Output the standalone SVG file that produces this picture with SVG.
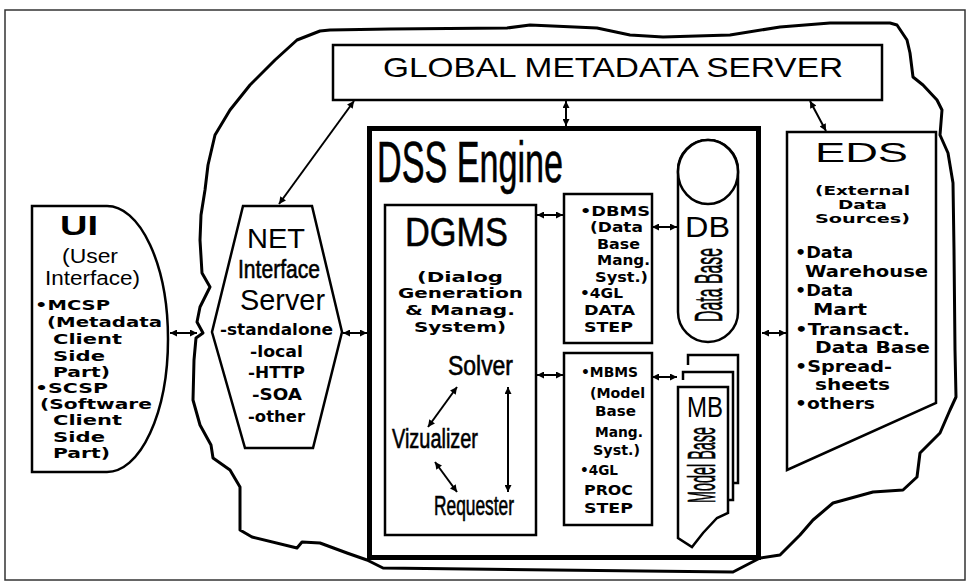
<svg xmlns="http://www.w3.org/2000/svg" width="968" height="583" viewBox="0 0 968 583">
<defs>
<marker id="ah" viewBox="0 0 10 10" refX="10" refY="5" markerWidth="8" markerHeight="7" markerUnits="userSpaceOnUse" orient="auto-start-reverse">
<path d="M0,0 L10,5 L0,10 z" fill="#000"/>
</marker>
<style>
.box{fill:#fff;stroke:#000;stroke-width:2.5;stroke-linejoin:miter}
.cloud{fill:none;stroke:#000;stroke-width:3;stroke-linejoin:round}
.con line{stroke:#000;stroke-width:2;marker-start:url(#ah);marker-end:url(#ah)}
text{fill:#000}
.reg{font-family:"Liberation Sans",Arial,sans-serif}
.cond{font-family:"Liberation Sans Narrow","Liberation Sans",Arial,sans-serif;stroke:#000;stroke-width:0.6}
.bw{font-family:"DejaVu Sans","Liberation Sans",Arial,sans-serif;font-weight:bold}
</style>
</defs>
<rect x="0" y="0" width="968" height="583" fill="#fff"/>
<rect x="5" y="10" width="960" height="570" fill="none" stroke="#333" stroke-width="1.5"/>

<path class="cloud" d="M390,29 L330,30 L320,31 L297,40 L275,60 L250,85 L230,110 L215,135 L208,165 L205,190 L201,215 L200,240 L202,273 L210,287 L200,307 L197,322 L203,333 L196,338 L194,360 L193,400 L200,425 L211,445 L213,458 L230,470 L240,487 L240,530 L252,537 L297,548 L302,542 L320,543 L347,553 L367,560 L383,568 L733,572 L760,558 L780,555 L800,535 L813,520 L833,503 L873,492 L903,490 L917,477 L920,453 L940,433 L950,410 L956,397 L955,350 L954,250 L953,183 L948,153 L940,135 L942,110 L937,100 L923,85 L913,77 L910,53 L907,40 L897,25 L890,23 L830,23 L780,27 L730,35 L663,37 L630,35 L597,28 L530,25 L507,28 Z"/>

<g id="gms">
<rect class="box" x="333" y="45" width="549" height="55"/>
<text class="reg" x="383" y="77" font-size="28" textLength="460" lengthAdjust="spacingAndGlyphs">GLOBAL METADATA SERVER</text>
</g>

<g id="ui">
<path class="box" d="M32,206 H107 A61,133 0 0 1 107,472 H32 Z"/>
<text class="reg" x="60" y="235" font-size="28" font-weight="bold" textLength="38" lengthAdjust="spacingAndGlyphs">UI</text>
<text class="reg" x="62" y="263" font-size="20" textLength="56" lengthAdjust="spacingAndGlyphs">(User</text>
<text class="reg" x="45" y="285" font-size="20" textLength="95" lengthAdjust="spacingAndGlyphs">Interface)</text>
<text class="bw" x="35" y="310" font-size="13.5" textLength="75" lengthAdjust="spacingAndGlyphs">•MCSP</text>
<text class="bw" x="47" y="327" font-size="13.5" textLength="115" lengthAdjust="spacingAndGlyphs">(Metadata</text>
<text class="bw" x="53" y="344" font-size="13.5" textLength="69" lengthAdjust="spacingAndGlyphs">Client</text>
<text class="bw" x="53" y="361" font-size="13.5" textLength="52" lengthAdjust="spacingAndGlyphs">Side</text>
<text class="bw" x="53" y="377" font-size="13.5" textLength="57" lengthAdjust="spacingAndGlyphs">Part)</text>
<text class="bw" x="35" y="393" font-size="13.5" textLength="73" lengthAdjust="spacingAndGlyphs">•SCSP</text>
<text class="bw" x="40" y="409" font-size="13.5" textLength="112" lengthAdjust="spacingAndGlyphs">(Software</text>
<text class="bw" x="53" y="425" font-size="13.5" textLength="69" lengthAdjust="spacingAndGlyphs">Client</text>
<text class="bw" x="53" y="442" font-size="13.5" textLength="52" lengthAdjust="spacingAndGlyphs">Side</text>
<text class="bw" x="53" y="458" font-size="13.5" textLength="57" lengthAdjust="spacingAndGlyphs">Part)</text>
</g>

<g id="net">
<polygon class="box" points="243,206 312,206 342,332 313,448 245,448 212,332"/>
<text class="reg" x="247" y="248" font-size="28" textLength="58" lengthAdjust="spacingAndGlyphs">NET</text>
<text class="cond" x="238" y="278" font-size="26" textLength="82" lengthAdjust="spacingAndGlyphs">Interface</text>
<text class="reg" x="240" y="310" font-size="29" textLength="85" lengthAdjust="spacingAndGlyphs">Server</text>
<text class="bw" x="220" y="335" font-size="15" textLength="113" lengthAdjust="spacingAndGlyphs">-standalone</text>
<text class="bw" x="250" y="357" font-size="15" textLength="53" lengthAdjust="spacingAndGlyphs">-local</text>
<text class="bw" x="248" y="378" font-size="15" textLength="57" lengthAdjust="spacingAndGlyphs">-HTTP</text>
<text class="bw" x="252" y="400" font-size="15" textLength="50" lengthAdjust="spacingAndGlyphs">-SOA</text>
<text class="bw" x="248" y="422" font-size="15" textLength="57" lengthAdjust="spacingAndGlyphs">-other</text>
</g>

<g id="dss">
<rect x="369.5" y="128.5" width="389" height="429" fill="#fff" stroke="#000" stroke-width="5"/>
<text class="cond" x="377" y="182" font-size="58" textLength="186" lengthAdjust="spacingAndGlyphs">DSS Engine</text>
</g>

<g id="dgms">
<rect class="box" x="385" y="205" width="151" height="330"/>
<text class="cond" x="405" y="246" font-size="40" textLength="103" lengthAdjust="spacingAndGlyphs">DGMS</text>
<text class="bw" x="417" y="282" font-size="14" textLength="86" lengthAdjust="spacingAndGlyphs">(Dialog</text>
<text class="bw" x="398" y="298" font-size="14" textLength="125" lengthAdjust="spacingAndGlyphs">Generation</text>
<text class="bw" x="405" y="315" font-size="14" textLength="110" lengthAdjust="spacingAndGlyphs">&amp; Manag.</text>
<text class="bw" x="414" y="332" font-size="14" textLength="92" lengthAdjust="spacingAndGlyphs">System)</text>
<text class="cond" x="448" y="375" font-size="27" textLength="65" lengthAdjust="spacingAndGlyphs">Solver</text>
<text class="cond" x="392" y="448" font-size="27" textLength="86" lengthAdjust="spacingAndGlyphs">Vizualizer</text>
<text class="cond" x="434" y="515" font-size="27" textLength="80" lengthAdjust="spacingAndGlyphs">Requester</text>
</g>

<g id="dbms">
<rect class="box" x="564" y="194" width="88" height="149"/>
<text class="bw" x="580" y="216" font-size="13.5" textLength="70" lengthAdjust="spacingAndGlyphs">•DBMS</text>
<text class="bw" x="590" y="232" font-size="13.5" textLength="53" lengthAdjust="spacingAndGlyphs">(Data</text>
<text class="bw" x="597" y="249" font-size="13.5" textLength="43" lengthAdjust="spacingAndGlyphs">Base</text>
<text class="bw" x="597" y="265" font-size="13.5" textLength="53" lengthAdjust="spacingAndGlyphs">Mang.</text>
<text class="bw" x="595" y="282" font-size="13.5" textLength="53" lengthAdjust="spacingAndGlyphs">Syst.)</text>
<text class="bw" x="580" y="298" font-size="13.5" textLength="43" lengthAdjust="spacingAndGlyphs">•4GL</text>
<text class="bw" x="584" y="315" font-size="13.5" textLength="51" lengthAdjust="spacingAndGlyphs">DATA</text>
<text class="bw" x="584" y="332" font-size="13.5" textLength="49" lengthAdjust="spacingAndGlyphs">STEP</text>
</g>

<g id="mbms">
<rect class="box" x="564" y="353" width="88" height="172"/>
<text class="bw" x="581" y="377" font-size="14" textLength="57" lengthAdjust="spacingAndGlyphs">•MBMS</text>
<text class="bw" x="590" y="398" font-size="14" textLength="55" lengthAdjust="spacingAndGlyphs">(Model</text>
<text class="bw" x="595" y="416" font-size="14" textLength="41" lengthAdjust="spacingAndGlyphs">Base</text>
<text class="bw" x="595" y="437" font-size="14" textLength="48" lengthAdjust="spacingAndGlyphs">Mang.</text>
<text class="bw" x="593" y="455" font-size="14" textLength="47" lengthAdjust="spacingAndGlyphs">Syst.)</text>
<text class="bw" x="580" y="475" font-size="14" textLength="38" lengthAdjust="spacingAndGlyphs">•4GL</text>
<text class="bw" x="584" y="495" font-size="14" textLength="49" lengthAdjust="spacingAndGlyphs">PROC</text>
<text class="bw" x="584" y="513" font-size="14" textLength="49" lengthAdjust="spacingAndGlyphs">STEP</text>
</g>

<g id="db">
<rect class="box" x="678" y="140" width="60" height="202" rx="30" ry="30"/>
<ellipse cx="708" cy="172" rx="30" ry="32" fill="#fff" stroke="#000" stroke-width="2.5"/>
<text class="reg" x="685" y="237" font-size="30" textLength="45" lengthAdjust="spacingAndGlyphs">DB</text>
<text class="cond" transform="translate(722,322) rotate(-90)" x="0" y="0" font-size="38" textLength="74" lengthAdjust="spacingAndGlyphs">Data Base</text>
</g>

<g id="mb">
<path class="box" d="M688,365 V355 H738 V483 H733"/>
<path class="box" d="M683,380 V372 H733 V500 H728"/>
<path class="box" d="M678,387 H728 V513 L717,518 L703,533 L692,547 L678,538 Z"/>
<text class="reg" x="687" y="417" font-size="30" textLength="36" lengthAdjust="spacingAndGlyphs">MB</text>
<text class="cond" transform="translate(715,503) rotate(-90)" x="0" y="0" font-size="38" textLength="76" lengthAdjust="spacingAndGlyphs">Model Base</text>
</g>

<g id="eds">
<polygon class="box" points="787,132 936,132 936,403 787,470"/>
<text class="reg" x="815" y="162" font-size="27" textLength="93" lengthAdjust="spacingAndGlyphs">EDS</text>
<text class="bw" x="815" y="195" font-size="12.5" textLength="95" lengthAdjust="spacingAndGlyphs">(External</text>
<text class="bw" x="838" y="209" font-size="12.5" textLength="49" lengthAdjust="spacingAndGlyphs">Data</text>
<text class="bw" x="815" y="223" font-size="12.5" textLength="95" lengthAdjust="spacingAndGlyphs">Sources)</text>
<text class="bw" x="795" y="258" font-size="15" textLength="58" lengthAdjust="spacingAndGlyphs">•Data</text>
<text class="bw" x="805" y="277" font-size="15" textLength="123" lengthAdjust="spacingAndGlyphs">Warehouse</text>
<text class="bw" x="795" y="296" font-size="15" textLength="58" lengthAdjust="spacingAndGlyphs">•Data</text>
<text class="bw" x="813" y="315" font-size="15" textLength="54" lengthAdjust="spacingAndGlyphs">Mart</text>
<text class="bw" x="795" y="335" font-size="15" textLength="115" lengthAdjust="spacingAndGlyphs">•Transact.</text>
<text class="bw" x="815" y="353" font-size="15" textLength="115" lengthAdjust="spacingAndGlyphs">Data Base</text>
<text class="bw" x="795" y="372" font-size="15" textLength="97" lengthAdjust="spacingAndGlyphs">•Spread-</text>
<text class="bw" x="815" y="390" font-size="15" textLength="75" lengthAdjust="spacingAndGlyphs">sheets</text>
<text class="bw" x="795" y="409" font-size="15" textLength="80" lengthAdjust="spacingAndGlyphs">•others</text>
</g>

<g id="connectors" class="con">
<line x1="354" y1="101" x2="279" y2="204"/>
<line x1="566" y1="101" x2="566" y2="126"/>
<line x1="810" y1="101" x2="826" y2="131"/>
<line x1="170" y1="333" x2="197" y2="333"/>
<line x1="343" y1="333" x2="367" y2="333"/>
<line x1="537" y1="215" x2="563" y2="215"/>
<line x1="537" y1="375" x2="563" y2="375"/>
<line x1="652" y1="227" x2="677" y2="227"/>
<line x1="652" y1="377" x2="677" y2="377"/>
<line x1="762" y1="333" x2="786" y2="333"/>
<line x1="457" y1="387" x2="428" y2="427"/>
<line x1="435" y1="462" x2="457" y2="492"/>
<line x1="508" y1="387" x2="508" y2="492"/>
</g>
</svg>
